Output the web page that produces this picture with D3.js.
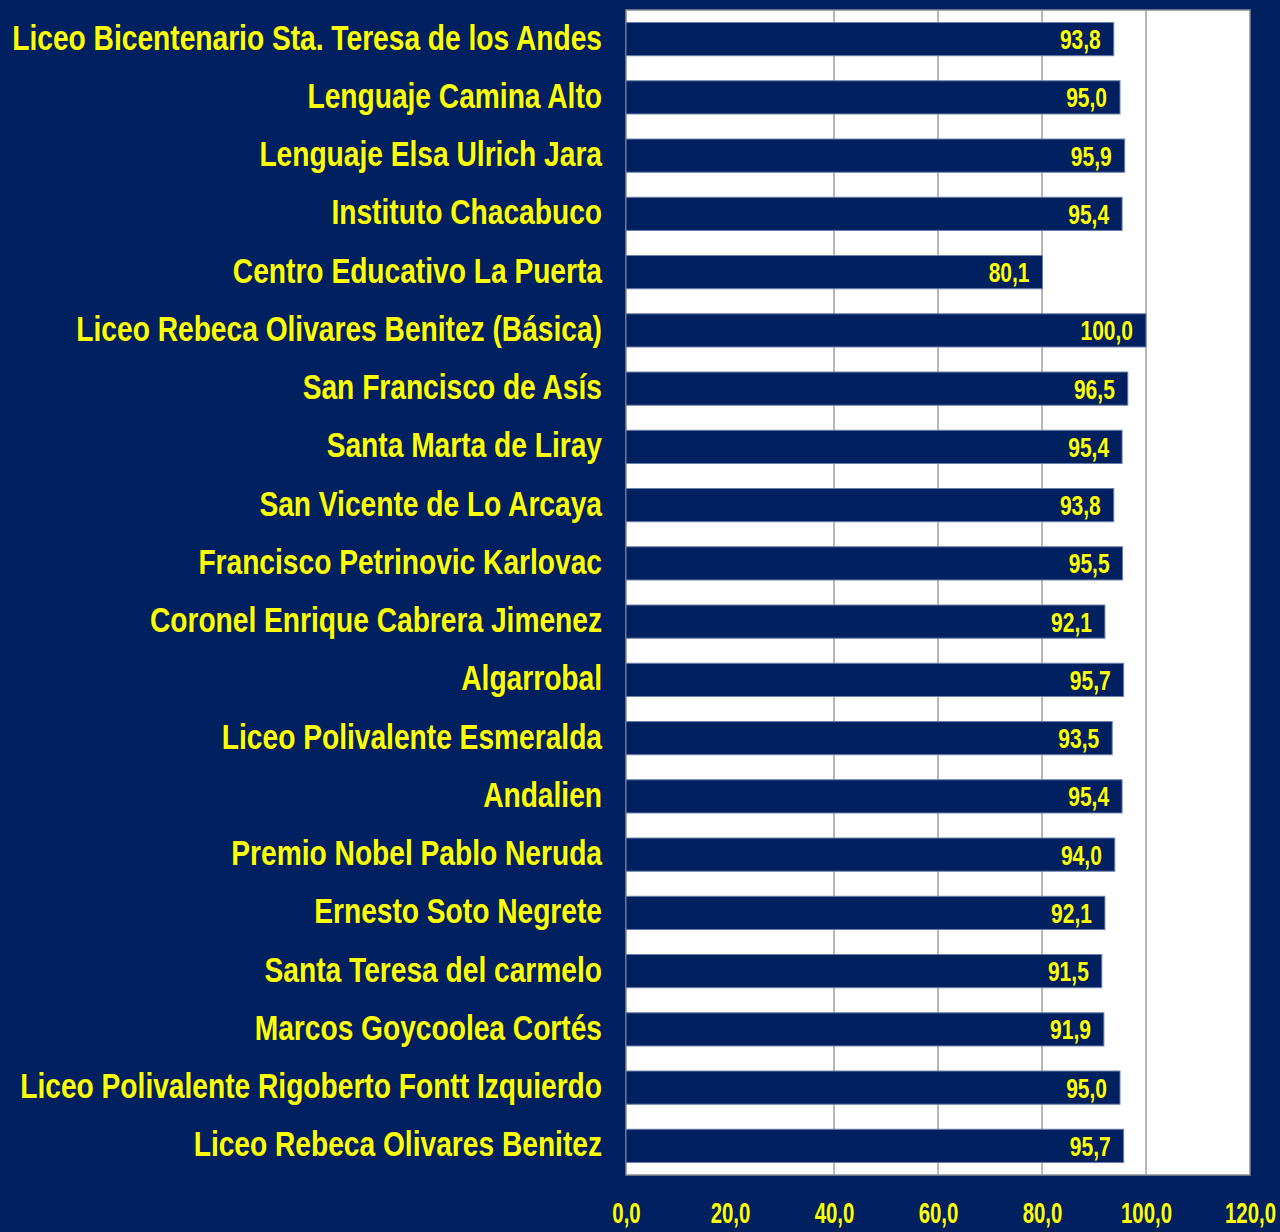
<!DOCTYPE html>
<html lang="en">
<head>
<meta charset="UTF-8">
<title>Chart</title>
<style>
  body { margin: 0; background: #002060; }
  text { font-family: "Liberation Sans", Arial, sans-serif; font-weight: bold; fill: #ffff00; }
</style>
</head>
<body>
<svg width="1280" height="1232" id="svg"></svg>
<script src="https://d3js.org/d3.v7.min.js"></script>
<script>
  // schools, top to bottom
  let schools = [
    "Liceo Bicentenario Sta. Teresa de los Andes",
    "Lenguaje Camina Alto",
    "Lenguaje Elsa Ulrich Jara",
    "Instituto Chacabuco",
    "Centro Educativo La Puerta",
    "Liceo Rebeca Olivares Benitez (Básica)",
    "San Francisco de Asís",
    "Santa Marta de Liray",
    "San Vicente de Lo Arcaya",
    "Francisco Petrinovic Karlovac",
    "Coronel Enrique Cabrera Jimenez",
    "Algarrobal",
    "Liceo Polivalente Esmeralda",
    "Andalien",
    "Premio Nobel Pablo Neruda",
    "Ernesto Soto Negrete",
    "Santa Teresa del carmelo",
    "Marcos Goycoolea Cortés",
    "Liceo Polivalente Rigoberto Fontt Izquierdo",
    "Liceo Rebeca Olivares Benitez"
  ]
  let values = [93.8, 95.0, 95.9, 95.4, 80.1, 100.0, 96.5, 95.4, 93.8, 95.5,
                92.1, 95.7, 93.5, 95.4, 94.0, 92.1, 91.5, 91.9, 95.0, 95.7]
  let ticks = [0, 20, 40, 60, 80, 100, 120]
  let gridTicks = [40, 60, 80, 100]

  var svg = d3.select("svg")
  var pLeft = 626, pRight = 1250, pTop = 10, pBottom = 1175
  var fmt = function (v) { return d3.format(".1f")(v).replace(".", ",") }

  var x = d3.scaleLinear().domain([0, 120]).range([pLeft, pRight])
  var y = d3.scaleBand().domain(schools).range([pTop, pBottom]).paddingInner(0.43).paddingOuter(0.215)

  // plot area
  svg.append("rect")
    .attr("x", pLeft).attr("y", pTop)
    .attr("width", pRight - pLeft).attr("height", pBottom - pTop)
    .attr("fill", "#ffffff")
    .attr("stroke", "#8c8c8c").attr("stroke-width", 1.5)

  // gridlines (no line at 20 in the original)
  svg.append("g").selectAll("line")
    .data(gridTicks)
    .enter().append("line")
    .attr("x1", d => x(d)).attr("x2", d => x(d))
    .attr("y1", pTop).attr("y2", pBottom)
    .attr("stroke", "#a0a0a0").attr("stroke-width", 1.5)

  // bars
  svg.append("g").selectAll("rect")
    .data(values)
    .enter().append("rect")
    .attr("x", x(0))
    .attr("y", (d, i) => y(schools[i]))
    .attr("width", d => x(d) - x(0))
    .attr("height", y.bandwidth())
    .attr("fill", "#002060")
    .attr("stroke", "#6b7fa8").attr("stroke-width", 1)

  // value labels, squeezed horizontally like a narrow font
  svg.append("g").selectAll("text")
    .data(values)
    .enter().append("text")
    .attr("transform", (d, i) => "translate(" + (x(d) - 13) + "," + (y(schools[i]) + y.bandwidth() / 2) + ") scale(0.75,1)")
    .attr("dy", "0.36em")
    .attr("text-anchor", "end")
    .style("font-size", "28px")
    .text(d => fmt(d))

  // category labels
  var catG = svg.append("g")
  var cats = catG.selectAll("text")
    .data(schools)
    .enter().append("text")
    .attr("text-anchor", "end")
    .attr("dy", "0.3em")
    .style("font-size", "35px")
    .text(d => d)
  var longest = cats.nodes()[0].getComputedTextLength()
  var sx = 590 / longest
  cats.attr("transform", d => "translate(602," + (y(d) + y.bandwidth() / 2) + ") scale(" + sx + ",1)")

  // x axis labels
  var xAxis = svg.append("g")
    .attr("transform", "translate(0," + (pBottom + 24) + ")")
    .call(d3.axisBottom(x).tickValues(ticks).tickSize(0).tickFormat(fmt))
  xAxis.select(".domain").remove()
  xAxis.selectAll("text")
    .attr("fill", "#ffff00")
    .attr("transform", "scale(0.68,1)")
    .style("font-size", "30px")
    .style("font-family", "Liberation Sans, Arial, sans-serif")
</script>
</body>
</html>
